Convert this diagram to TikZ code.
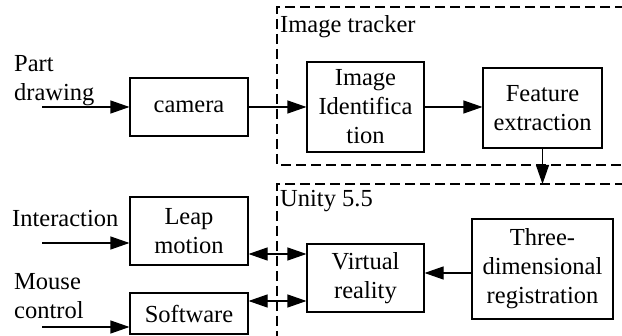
\documentclass[tikz,border=0pt]{standalone}
\usepackage{fontspec}
\setmainfont{Liberation Serif}
\usetikzlibrary{arrows.meta,positioning,calc}
\tikzset{
  blk/.style={draw, line width=1.1pt, align=center, inner sep=0pt},
  arr/.style={line width=1.1pt, -{Triangle[length=19pt,width=13pt]}},
  darr/.style={line width=1.1pt, {Triangle[length=19pt,width=13pt]}-{Triangle[length=19pt,width=13pt]}},
  region/.style={line width=1.3pt, dash pattern=on 10pt off 5pt},
  lbl/.style={align=left, inner sep=0pt, anchor=west}
}

\begin{document}
\begin{tikzpicture}[x=1pt, y=1pt, font=\fontsize{24.5}{29}\selectfont]
\useasboundingbox (0,0) rectangle (622,-336);
% dashed regions
\draw[region] (640,-7) -- (277,-7) -- (277,-165) -- (640,-165);
\draw[region] (640,-184) -- (277,-184) -- (277,-345);
\node[lbl] (tracker) at (280,-27) {Image tracker};
\node[lbl] (unity)   at (280,-201) {Unity 5.5};
% blocks
\node[blk, minimum width=118pt, minimum height=58pt]  (camera) at (189,-107)   {camera};
\node[blk, minimum width=117pt, minimum height=90pt]  (imgid)  at (365.5,-107) {Image\\Identifica\\tion};
\node[blk, minimum width=119pt, minimum height=80pt]  (feat)   at (542.5,-108) {Feature\\extraction};
\node[blk, minimum width=118pt, minimum height=68pt]  (leap)   at (189,-231)   {Leap\\motion};
\node[blk, minimum width=118pt, minimum height=41pt]  (soft)   at (189,-313.5) {Software};
\node[blk, minimum width=117pt, minimum height=68pt]  (vr)     at (365.5,-278) {Virtual\\reality};
\node[blk, minimum width=141pt, minimum height=100pt] (three)  at (542.5,-269) {Three-\\dimensional\\registration};
% inputs
\node[lbl] (part)  at (14,-81)  {Part\\drawing};
\node[lbl] (inter) at (12,-219) {Interaction};
\node[lbl] (mouse) at (14,-296) {Mouse\\control};
\coordinate (in1) at (42,-107);
\coordinate (in2) at (42,-243);
\coordinate (in3) at (42,-327);
\coordinate (down) at (542.5,-184);
% connectors
\draw[arr] (in1) -- (camera.west);
\draw[arr] (in2) -- (in2 -| leap.west);
\draw[arr] (in3) -- (in3 -| soft.west);
\draw[arr] (camera) -- (imgid);
\draw[arr] (imgid.east) -- (imgid.east -| feat.west);
\draw[arr] (feat.south) -- (down);
\draw[darr] (leap.east |- 0,-254) -- (vr.west |- 0,-254);
\draw[darr] (soft.east |- 0,-301) -- (vr.west |- 0,-301);
\draw[arr] (three.west |- 0,-273) -- (vr.east |- 0,-273);
\end{tikzpicture}
\end{document}
